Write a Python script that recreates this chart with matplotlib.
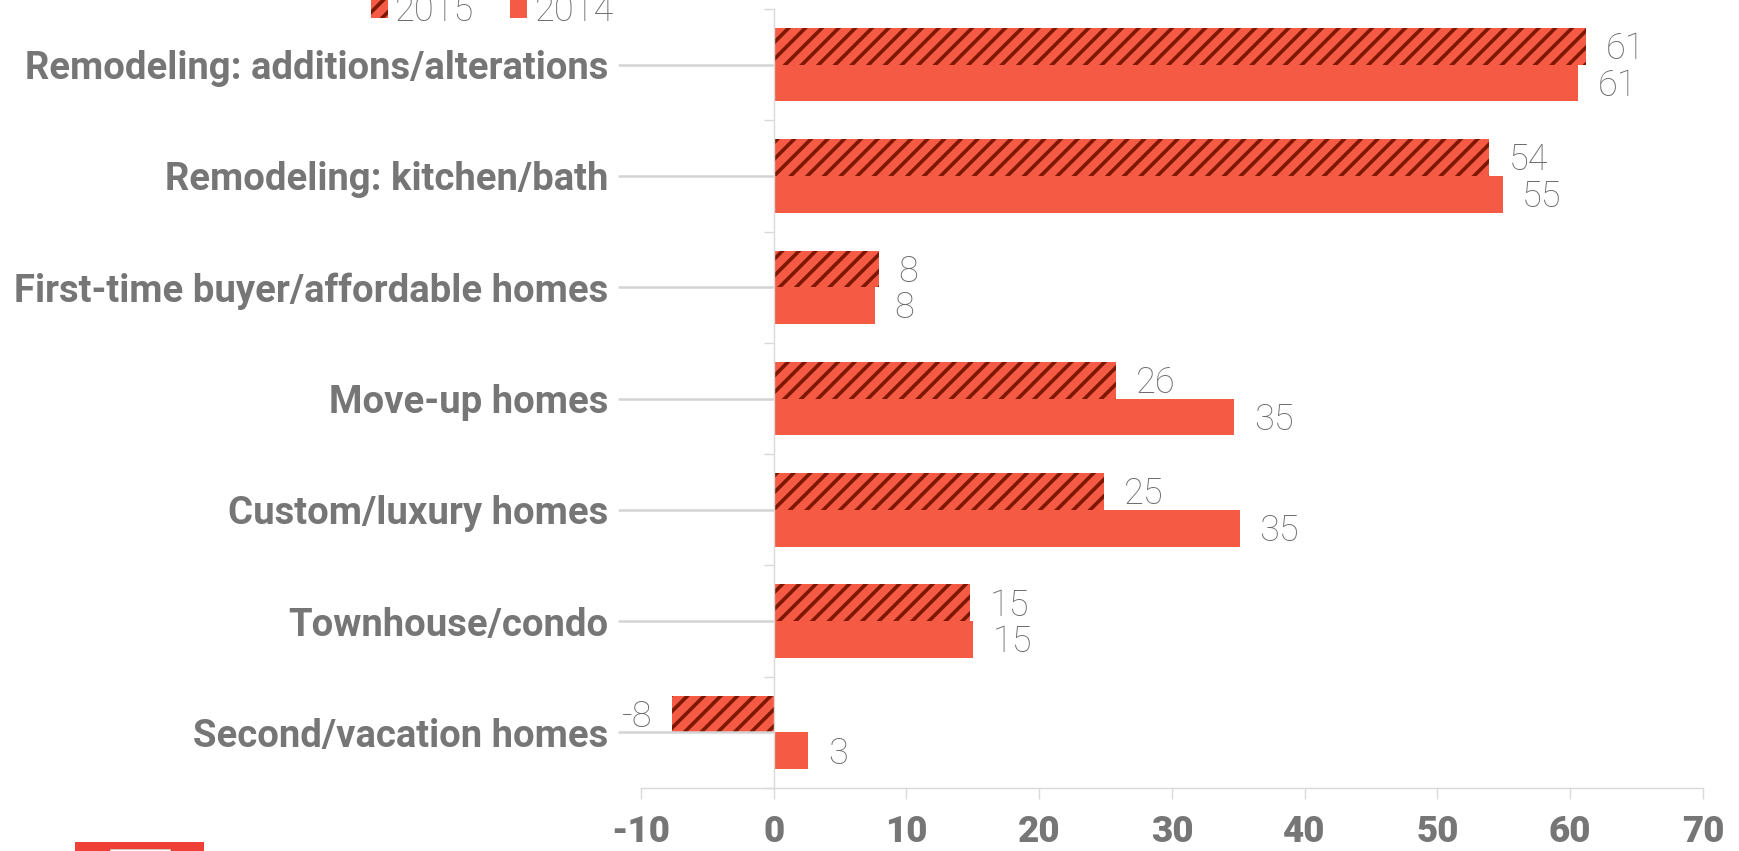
import matplotlib
matplotlib.use("Agg")
import matplotlib.pyplot as plt
from matplotlib.patches import Rectangle
import numpy as np

# ── Data ──────────────────────────────────────────────────────────────────────
categories = [
    "Remodeling: additions/alterations",
    "Remodeling: kitchen/bath",
    "First-time buyer/affordable homes",
    "Move-up homes",
    "Custom/luxury homes",
    "Townhouse/condo",
    "Second/vacation homes",
]
vals_2015 = [61.2, 53.9, 7.9, 25.8, 24.9, 14.8, -7.7]
vals_2014 = [60.6, 54.9, 7.6, 34.7, 35.1, 15.0, 2.6]
xticks = [-10, 0, 10, 20, 30, 40, 50, 60, 70]

CORAL = "#F55A44"
DARK = "#7E1702"
GRAY_TXT = "#767676"
GRAY_VAL = "#6C6C6C"
GRAY_LN = "#D9D9D9"

plt.rcParams.update({
    "font.family": ["Roboto", "DejaVu Sans"],
    "hatch.linewidth": 2.6,
})

fig = plt.figure(figsize=(17.4, 8.51), dpi=100)
ax = fig.add_axes([0.3684, 0.074, 0.6103, 0.9154])

y = np.arange(len(categories))
h = 0.33
ax.barh(y - h / 2, vals_2015, height=h, color=CORAL, edgecolor=DARK,
        linewidth=0, hatch="//", label="2015")
ax.barh(y + h / 2, vals_2014, height=h, color=CORAL, linewidth=0, label="2014")

# value labels next to each bar end
for ys, vals in ((y - h / 2, vals_2015), (y + h / 2, vals_2014)):
    for yy, v in zip(ys, vals):
        ax.annotate(f"{v:.0f}", (v, yy), xytext=(14 if v >= 0 else -14, -2),
                    textcoords="offset points", ha="left" if v >= 0 else "right",
                    va="center", fontsize=26, fontweight="light", color=GRAY_VAL)

ax.set_xlim(-10, 70)
ax.set_ylim(len(categories) - 0.5, -0.5)

# axes styling
for s in ("top", "right"):
    ax.spines[s].set_visible(False)
ax.spines["left"].set_position(("data", 0))
ax.spines["left"].set_color(GRAY_LN)
ax.spines["bottom"].set_color(GRAY_LN)
ax.spines["left"].set_linewidth(1)
ax.spines["bottom"].set_linewidth(1)

ax.set_yticks(y)
ax.set_yticklabels(categories, fontsize=27.5, fontweight="bold", color=GRAY_TXT)
ax.set_yticks(np.arange(len(categories) + 1) - 0.5, minor=True)
ax.tick_params(axis="y", which="major", length=112, width=1.8, color="#D4D4D4", pad=7)
ax.tick_params(axis="y", which="minor", length=7, width=1, color=GRAY_LN)

ax.set_xticks(xticks)
ax.set_xticklabels([str(t) for t in xticks], fontsize=26.5, fontweight="black", color=GRAY_TXT)
ax.tick_params(axis="x", length=8, width=1, color=GRAY_LN, pad=11)

ax.legend(loc="center", bbox_to_anchor=(0.283, 0.987), bbox_transform=fig.transFigure,
          ncol=2, frameon=False, handlelength=0.47, handleheight=0.47,
          handletextpad=0.2, columnspacing=1.0, borderpad=0,
          prop={"size": 26, "weight": "light"}, labelcolor=GRAY_VAL)

# logo block, bottom left
fig.add_artist(Rectangle((75 / 1740, 0), 129 / 1740, 9 / 851,
                         transform=fig.transFigure, facecolor="#EE4036", edgecolor="none"))
fig.add_artist(Rectangle((110 / 1740, 0), 60 / 1740, 2 / 851,
                         transform=fig.transFigure, facecolor="white", edgecolor="#CCCCCC",
                         linewidth=0.5))

fig.savefig("out.png", dpi=100)
